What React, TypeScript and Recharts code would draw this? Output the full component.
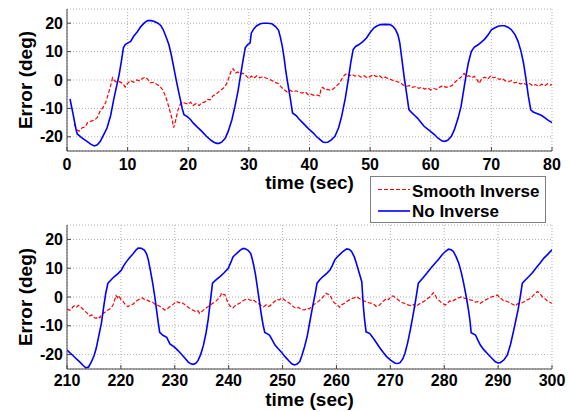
import React from "react";
import { LineChart, Line, XAxis, YAxis, CartesianGrid } from "recharts";

// axis ticks
const topTimeTicks = [0, 10, 20, 30, 40, 50, 60, 70, 80];
const bottomTimeTicks = [210, 220, 230, 240, 250, 260, 270, 280, 290, 300];
const errorTicks = [-20, -10, 0, 10, 20];

// series: [time (sec), error (deg)]
const topNoInverse: [number, number][] = [
    [0.5, -6.7], [1.0, -12], [1.5, -17.5], [1.7, -19], [2.4, -20.3], [3.3, -21.6], [3.9, -22.6], [4.5, -23.2],
    [5.0, -22.8], [5.5, -21.6], [6.0, -19.5], [6.6, -16.9], [7.2, -12.5], [7.7, -6.9], [8.2, -2], [8.6, 1.9],
    [9.0, 7], [9.3, 11.3], [9.6, 12.5], [10, 13], [10.5, 13.6], [11, 15.4], [11.6, 17], [12.2, 18.9],
    [12.8, 20.2], [13.3, 20.9], [13.9, 20.9], [14.4, 20.6], [15.0, 20], [15.5, 19.1], [15.9, 17.6], [16.3, 15.4],
    [16.8, 12.5], [17.2, 8.9], [17.6, 4.5], [18.0, 0.1], [18.4, -4], [18.7, -6.9], [19.0, -10], [19.3, -12.2],
    [19.9, -13], [20.4, -14], [20.8, -15.1], [21.5, -16.6], [22.2, -18], [23.0, -19.8], [23.8, -21.3], [24.3, -22],
    [24.7, -22.3], [25.1, -22.3], [25.5, -21.9], [26.1, -20.5], [26.6, -18], [27.2, -14], [27.7, -9.3], [28.2, -4],
    [28.6, 1.3], [29.0, 6.5], [29.4, 11.3], [29.8, 12.5], [30.2, 13], [30.4, 16.5], [30.8, 18], [31.3, 19.1],
    [31.9, 19.8], [32.4, 20], [33.1, 20], [33.8, 19.8], [34.4, 18.8], [34.9, 17.5], [35.2, 15], [35.5, 12],
    [35.8, 8], [36.1, 3], [36.4, -1], [36.8, -6], [37.2, -11.6], [37.8, -12.5], [38.3, -13.8], [38.9, -15.1],
    [39.5, -16.4], [40, -17.5], [40.6, -18.6], [41.1, -19.8], [41.7, -20.9], [42.2, -21.8], [42.6, -22], [43, -21.9],
    [43.6, -21.1], [44.2, -19.8], [44.8, -16.8], [45.3, -12.8], [45.9, -6.5], [46.4, 0.1], [46.8, 6], [47.2, 10.7],
    [47.6, 11.8], [48.1, 12.4], [48.8, 13.5], [49.4, 14.8], [50, 16.7], [50.6, 18.3], [51.1, 19], [51.7, 19.5],
    [52.5, 19.6], [53.3, 19.5], [53.8, 18.8], [54.2, 17.7], [54.6, 15.8], [54.9, 13], [55.2, 8], [55.6, 1.3],
    [56, -4.5], [56.4, -10.4], [56.9, -11.6], [57.4, -12.6], [57.8, -13.4], [58.4, -15], [58.9, -16.3], [59.8, -17.8],
    [60.6, -19.2], [61.2, -20.5], [61.9, -21.5], [62.3, -21.6], [62.8, -21.2], [63.4, -19.8], [63.9, -17.5], [64.5, -13.5],
    [65, -9.3], [65.4, -4], [65.8, 1.3], [66.2, 6], [66.7, 10.1], [67.2, 11.6], [67.8, 12.4], [68.4, 13.4],
    [68.9, 14.4], [69.5, 16], [70, 17.7], [70.6, 18.4], [71.1, 18.9], [71.6, 19.1], [72.2, 19.1], [72.8, 18.5],
    [73.3, 17.7], [73.9, 16], [74.4, 13.6], [74.9, 10], [75.3, 6], [75.7, 0.5], [76.1, -5.7], [76.5, -10.5],
    [76.9, -11.3], [77.6, -11.9], [78.3, -12.5], [78.9, -13.4], [79.4, -14.2], [80, -15],
];

const topSmooth: [number, number][] = [
    [1.2, -15.5], [1.6, -17.5], [2.0, -18], [2.5, -16.8], [3.0, -16.5], [3.4, -15], [4.0, -14.5], [4.6, -14],
    [5.0, -13.2], [5.5, -10.8], [6.0, -9.5], [6.4, -7.8], [6.8, -5], [7.2, -2], [7.5, 0.8], [7.8, -0.2],
    [8.2, -0.8], [8.7, -0.6], [9.2, -1.2], [9.6, -2.5], [10.0, -1.2], [10.5, -0.2], [11.0, -0.8], [11.5, 0],
    [12.0, -0.3], [12.5, 0.6], [12.9, 1], [13.3, 0.3], [13.7, -1], [14.2, -0.8], [14.8, -1.5], [15.3, -2.2],
    [15.8, -3.5], [16.3, -6], [16.8, -9.5], [17.3, -13.5], [17.6, -16.8], [17.9, -14.5], [18.3, -10.5], [18.7, -8.5],
    [19.0, -7.8], [19.5, -8.2], [20.0, -8.5], [20.4, -7.8], [20.8, -9], [21.3, -8.3], [21.8, -9], [22.2, -8],
    [22.7, -7.8], [23.2, -6.8], [23.6, -7], [24.1, -5.5], [24.6, -5], [25.1, -4], [25.6, -3.2], [26.0, -2.5],
    [26.4, -1], [26.8, 1.5], [27.1, 3.3], [27.4, 4], [27.8, 2.5], [28.2, 2.8], [28.6, 2], [29.0, 2.4],
    [29.5, 1.6], [30.0, 0.5], [30.4, 1.4], [30.8, 0.6], [31.3, 1.5], [31.8, 0.8], [32.3, 1.2], [32.8, 0.7],
    [33.3, 0.3], [33.8, -0.2], [34.3, -0.8], [34.8, -1.2], [35.3, -2.4], [35.8, -3.4], [36.3, -4.2], [36.8, -3.6],
    [37.3, -4.2], [37.8, -3.8], [38.3, -4.3], [38.8, -4.6], [39.3, -4.2], [39.8, -5.2], [40.3, -5], [40.8, -5.5],
    [41.3, -5.3], [41.7, -5.6], [41.9, -3], [42.2, -2.6], [42.6, -3.5], [43.0, -3.3], [43.5, -3.7], [44.0, -3],
    [44.5, -2], [45.0, -1], [45.4, 0.6], [45.8, 1.8], [46.2, 2.4], [46.6, 1.5], [47.0, 2], [47.5, 1.4],
    [48.0, 1.6], [48.5, 1], [49.0, 1.5], [49.5, 0.8], [50.0, 1.2], [50.5, 1.9], [51.0, 1.2], [51.5, 1.6],
    [52.0, 0.7], [52.5, 1], [53.0, 0.5], [53.5, 0.1], [54.0, -0.3], [54.5, -0.6], [55.0, -1], [55.5, -1.8],
    [56.0, -2.2], [56.5, -2], [57.0, -2.6], [57.5, -2.3], [58.0, -2.9], [58.5, -2.6], [59.0, -3.2], [59.5, -2.8],
    [60.0, -3.5], [60.5, -3], [61.0, -3.3], [61.5, -2.5], [62.0, -2], [62.5, -2.6], [63.0, -2.3], [63.5, -2],
    [64.0, -0.8], [64.5, 0.2], [65.0, 1], [65.5, 2.3], [65.9, 1.2], [66.3, 1.5], [66.8, 0.8], [67.2, 1.3],
    [67.6, 0.2], [68.0, -1.2], [68.4, 0.5], [68.9, 1], [69.4, 0.3], [69.9, 1.5], [70.3, 0.8], [70.8, 1],
    [71.3, 0.2], [71.8, 0.5], [72.3, -0.3], [72.8, -0.6], [73.3, -0.2], [73.8, -1], [74.3, -0.7], [74.8, -1.4],
    [75.3, -1], [75.8, -1.8], [76.3, -1.2], [76.8, -2], [77.3, -1.6], [77.8, -2.2], [78.3, -1.5], [78.8, -2],
    [79.3, -1.3], [79.8, -1.8], [80, -1.5],
];

const bottomNoInverse: [number, number][] = [
    [210, -18.4], [210.5, -19.3], [211.1, -20.3], [211.8, -21.6], [212.4, -22.6], [213, -23.8], [213.5, -24.6], [214, -24.3],
    [214.5, -22.6], [215, -20.5], [215.4, -18], [215.9, -13.5], [216.4, -8.9], [216.8, -3.5], [217.2, 1.4], [217.6, 4.8],
    [218.2, 6], [218.8, 7.1], [219.5, 8.2], [220.1, 9.4], [220.5, 10.8], [221, 12.2], [221.6, 13.6], [222.3, 15.1],
    [222.8, 16.3], [223.2, 17], [223.8, 16.9], [224.4, 16.2], [224.8, 14.8], [225.1, 12.8], [225.5, 9], [225.9, 4.8],
    [226.3, 0], [226.6, -4.3], [226.9, -8.5], [227.2, -12.3], [227.8, -13.3], [228.5, -14], [229.1, -16.3], [230, -17.5],
    [230.6, -18.6], [231.2, -19.8], [231.9, -21.3], [232.5, -22.6], [233, -23.2], [233.4, -23.4], [233.9, -23], [234.3, -22.1],
    [234.8, -20], [235.3, -16.9], [235.8, -12.5], [236.2, -7.8], [236.6, -1.5], [237, 4.8], [237.7, 6], [238.4, 7.1],
    [239.2, 8.5], [239.9, 9.9], [240.4, 12], [240.8, 13.9], [241.4, 15], [242.1, 16.2], [242.6, 16.8], [243, 16.8],
    [243.6, 16.2], [244.1, 15.1], [244.4, 13], [244.7, 10.5], [245, 7.5], [245.3, 3.7], [245.7, -1.5], [246.1, -6.6],
    [246.4, -9.8], [246.7, -12.3], [247.2, -12.8], [247.6, -13.3], [248.1, -15], [248.6, -16.7], [249.2, -18], [249.8, -19.2],
    [250.5, -20.8], [251.2, -22.2], [251.7, -23.2], [252.2, -23.6], [252.7, -23.3], [253.2, -22.4], [253.6, -20.2], [254.1, -17.2],
    [254.6, -13.4], [255, -9.2], [255.4, -5.2], [255.7, -2.2], [256.1, 1.5], [256.4, 4.8], [256.9, 6], [257.5, 7.1],
    [258.2, 8.2], [258.8, 9.4], [259.2, 10.8], [259.7, 12.9], [260.1, 13.8], [260.6, 14.7], [261.2, 15.8], [261.9, 16.7],
    [262.4, 16.5], [262.8, 15.8], [263.3, 14], [263.7, 11.7], [264.2, 8.5], [264.7, 5.3], [265, -3.4], [265.2, -7.5],
    [265.5, -12.1], [266.2, -12.7], [266.6, -13.7], [267.1, -15], [267.6, -16.4], [268.1, -17.8], [268.7, -19.3], [269.3, -20.7],
    [270.1, -22], [270.9, -23], [271.4, -23.1], [271.8, -22.8], [272.3, -21.5], [272.7, -19.6], [273.2, -16], [273.7, -11.5],
    [274.2, -6.5], [274.6, -2.2], [275.2, 4.8], [276, 6.5], [276.8, 8.3], [277.5, 10], [278.3, 11.7], [279, 13.2],
    [279.6, 14.7], [280.2, 15.8], [280.8, 16.6], [281.3, 16.4], [281.7, 15.8], [282.2, 14], [282.7, 11.7], [283.2, 8.3],
    [283.6, 4.8], [284.1, 0], [284.5, -4.5], [284.8, -8.5], [285, -12.4], [285.8, -13.2], [286.2, -14.8], [286.7, -16.7],
    [287.3, -18.2], [288, -19.6], [288.7, -21], [289.5, -22.5], [290, -22.9], [290.4, -22.8], [291.1, -21.8], [291.7, -20.2],
    [292.3, -16.5], [292.9, -11.5], [293.3, -8], [293.7, -4.5], [294.1, 0], [294.5, 4.8], [295.1, 6], [295.7, 7.1],
    [296.4, 8.5], [297, 10], [297.8, 11.8], [298.5, 13.5], [299.2, 14.8], [300, 16.4],
];

const bottomSmooth: [number, number][] = [
    [210, -4.1], [210.5, -4.6], [210.8, -4.3], [211.1, -3.4], [211.4, -3], [211.8, -3.5], [212.1, -2.9], [212.4, -3.2],
    [212.8, -3.9], [213.3, -4.9], [213.7, -5.5], [214.2, -6.6], [214.6, -6.2], [215, -7.1], [215.4, -7.4], [215.8, -6.8],
    [216.1, -7.2], [216.4, -6], [216.8, -5.6], [217.3, -4.9], [217.7, -4.4], [218.2, -3.8], [218.6, -2.5], [219.1, 0.5],
    [219.4, -0.2], [219.6, 0.5], [220, -0.8], [220.4, -1.5], [220.8, -2.6], [221.3, -3.4], [221.7, -2.8], [222.2, -2.6],
    [222.6, -1.8], [223, -1.2], [223.5, -0.7], [224, -0.3], [224.4, -0.9], [224.9, -1.1], [225.4, -1.6], [225.9, -1.8],
    [226.3, -2.5], [226.8, -2.8], [227.2, -3.2], [227.7, -3.8], [228.1, -4.5], [228.5, -4.3], [229, -3.5], [229.4, -3],
    [229.9, -2.2], [230.3, -1.5], [230.8, -2], [231.2, -1.8], [231.7, -2.4], [232.2, -3.2], [232.7, -3.8], [233.1, -4.2],
    [233.4, -4.6], [233.9, -5.1], [234.3, -4.8], [234.6, -5.7], [235.1, -4.9], [235.6, -4.1], [236, -3.6], [236.5, -2.9],
    [237.1, -2.1], [237.6, -1.5], [238.1, -0.6], [238.5, 0.5], [238.7, 1.4], [239, 0.9], [239.3, 0.8], [239.6, -0.8],
    [239.9, -2.1], [240.3, -3.2], [240.8, -3.8], [241.2, -3], [241.6, -2.6], [242.1, -2.1], [242.6, -1.4], [243.1, -0.9],
    [243.6, -0.7], [244.1, -1.2], [244.5, -0.9], [244.9, -1.5], [245.4, -2.2], [246, -2.9], [246.5, -3.4], [247, -2.7],
    [247.4, -3.3], [247.7, -3], [248.2, -2.1], [248.6, -1.4], [248.9, -0.9], [249.4, -1], [249.8, -0.4], [250.1, -0.6],
    [250.6, -1.4], [251.3, -2.2], [251.8, -3], [252.2, -3.6], [252.5, -4], [253, -3.6], [253.5, -4.4], [254.1, -4.5],
    [254.6, -3.9], [255, -4.1], [255.3, -3.4], [255.8, -2.6], [256.2, -2.2], [256.6, -1.6], [257.1, -0.8], [257.6, 0.2],
    [258.1, 1.3], [258.5, 0.9], [258.8, 0.7], [259.1, -0.5], [259.4, -1.6], [259.9, -2.5], [260.3, -3], [260.6, -3.6],
    [261, -2.7], [261.5, -2.2], [261.9, -1.6], [262.4, -1], [262.9, -0.5], [263.3, -0.3], [263.7, 0.1], [264.2, -0.4],
    [264.6, -0.9], [265, -1.3], [265.5, -1.6], [266, -2], [266.5, -2.2], [267, -2.6], [267.4, -3.3], [267.8, -3.1],
    [268.3, -2.2], [268.8, -1.3], [269.3, -0.5], [269.7, -0.9], [270.2, 0.3], [270.6, 0.3], [271, -0.4], [271.4, -0.9],
    [271.8, -1.6], [272.3, -2], [272.8, -2.3], [273.4, -2.8], [273.9, -3], [274.3, -2.6], [274.6, -3.4], [275.1, -2.8],
    [275.6, -2.1], [276.2, -1.6], [276.7, -0.8], [277.2, -0.2], [277.6, 0.6], [278, 1.5], [278.3, 0.8], [278.6, -0.5],
    [279, -1.1], [279.5, -2], [280.2, -2.8], [280.6, -2.2], [281, -1.4], [281.4, -1.6], [281.9, -1], [282.4, -0.5],
    [282.8, -0.2], [283.3, 0.1], [283.8, -0.5], [284.3, -0.6], [284.8, -1], [285.3, -1.2], [285.8, -1.8], [286.2, -1.6],
    [286.7, -2.2], [287.2, -1.6], [287.7, -1], [288.1, -0.6], [288.6, -0.1], [289.1, 0.2], [289.5, 0.4], [289.8, 0.7],
    [290.2, 0.1], [290.6, -0.6], [291, -1.3], [291.5, -1.4], [292, -1.8], [292.3, -2.2], [292.8, -2.6], [293.2, -3.1],
    [293.6, -2.4], [294, -2.2], [294.5, -2], [295, -1.4], [295.5, -0.9], [296, -0.5], [296.5, 0.5], [296.9, 1.2],
    [297.3, 1.9], [297.7, 1.3], [298.2, 0.1], [298.6, -0.4], [299.1, -1.3], [299.6, -1.8], [300, -2.2],
];

const FONT = "'Liberation Sans', Arial, Helvetica, sans-serif";
const AXIS_COLOR = "#444";
const RED = "#ff0000";
const BLUE = "#0000ff";

const toPoints = (arr: [number, number][]) => arr.map(([t, v]) => ({ t, v }));

const tickStyle = { fill: "#000", fontSize: 16, fontWeight: 700, fontFamily: FONT };

// rotated y-axis title, centered on the plot height
const ErrorLabel = (props: any) => {
    const vb = props.viewBox || {};
    const cx = 25;
    const cy = (vb.y ?? 0) + (vb.height ?? 0) / 2;
    return (
        <text
            x={cx}
            y={cy}
            transform={`rotate(-90 ${cx} ${cy})`}
            textAnchor="middle"
            dominantBaseline="central"
            fill="#000"
            fontSize={19}
            fontWeight={700}
            fontFamily={FONT}
        >
            Error (deg)
        </text>
    );
};

interface PanelProps {
    height: number;
    marginTop: number;
    axisHeight: number;
    tickGap: number;
    labelOffset: number;
    domain: [number, number];
    ticks: number[];
    smooth: [number, number][];
    noInverse: [number, number][];
}

function Panel({ height, marginTop, axisHeight, tickGap, labelOffset, domain, ticks, smooth, noInverse }: PanelProps) {
    return (
        <LineChart width={571} height={height} margin={{ top: marginTop, right: 19, bottom: 0, left: 0 }}>
            <CartesianGrid stroke="#b0b0b0" strokeDasharray="1 2" />
            <XAxis
                type="number"
                dataKey="t"
                domain={domain}
                ticks={ticks}
                allowDataOverflow
                height={axisHeight}
                stroke={AXIS_COLOR}
                tickSize={-4}
                tickMargin={tickGap}
                tick={tickStyle}
                label={{
                    value: "time (sec)",
                    position: "insideBottom",
                    offset: labelOffset,
                    style: { fill: "#000", fontSize: 19, fontWeight: 700, fontFamily: FONT },
                }}
            />
            <XAxis
                xAxisId="top"
                orientation="top"
                type="number"
                dataKey="t"
                domain={domain}
                ticks={ticks}
                allowDataOverflow
                height={0}
                stroke={AXIS_COLOR}
                tickSize={-4}
                tick={false}
            />
            <YAxis
                type="number"
                domain={[-25, 25]}
                ticks={errorTicks}
                allowDataOverflow
                width={67}
                stroke={AXIS_COLOR}
                tickSize={-4}
                tickMargin={8}
                tick={tickStyle}
                label={<ErrorLabel />}
            />
            <YAxis
                yAxisId="right"
                orientation="right"
                type="number"
                domain={[-25, 25]}
                ticks={errorTicks}
                allowDataOverflow
                width={0}
                stroke={AXIS_COLOR}
                tickSize={-4}
                tick={false}
            />
            <Line
                data={toPoints(smooth)}
                dataKey="v"
                name="Smooth Inverse"
                type="linear"
                stroke={RED}
                strokeWidth={1.2}
                strokeDasharray="4 2"
                dot={false}
                isAnimationActive={false}
            />
            <Line
                data={toPoints(noInverse)}
                dataKey="v"
                name="No Inverse"
                type="linear"
                stroke={BLUE}
                strokeWidth={1.6}
                dot={false}
                isAnimationActive={false}
            />
        </LineChart>
    );
}

export default function App() {
    return (
        <div
            style={{
                position: "absolute",
                left: 0,
                top: 0,
                width: 571,
                height: 412,
                background: "#fff",
                fontFamily: FONT,
            }}
        >
            <div style={{ position: "absolute", left: 0, top: 0 }}>
                <Panel
                    height={200}
                    marginTop={9}
                    axisHeight={49}
                    tickGap={12}
                    labelOffset={11}
                    domain={[0, 80]}
                    ticks={topTimeTicks}
                    smooth={topSmooth}
                    noInverse={topNoInverse}
                />
            </div>
            <div style={{ position: "absolute", left: 0, top: 200 }}>
                <Panel
                    height={212}
                    marginTop={25}
                    axisHeight={43}
                    tickGap={10}
                    labelOffset={6}
                    domain={[210, 300]}
                    ticks={bottomTimeTicks}
                    smooth={bottomSmooth}
                    noInverse={bottomNoInverse}
                />
            </div>
            {/* legend box */}
            <div
                style={{
                    position: "absolute",
                    left: 370,
                    top: 176,
                    width: 174,
                    height: 45,
                    border: "1px solid #808080",
                    background: "#fff",
                }}
            >
                <svg width={174} height={45} style={{ display: "block" }}>
                    <line x1={7} y1={12.5} x2={39} y2={12.5} stroke={RED} strokeWidth={1.2} strokeDasharray="4 2" />
                    <text x={41} y={19.5} fontSize={17} fontWeight={700} fontFamily={FONT} fill="#000">
                        Smooth Inverse
                    </text>
                    <line x1={7} y1={34} x2={39} y2={34} stroke={BLUE} strokeWidth={1.6} />
                    <text x={41} y={40} fontSize={17} fontWeight={700} fontFamily={FONT} fill="#000">
                        No Inverse
                    </text>
                </svg>
            </div>
        </div>
    );
}
